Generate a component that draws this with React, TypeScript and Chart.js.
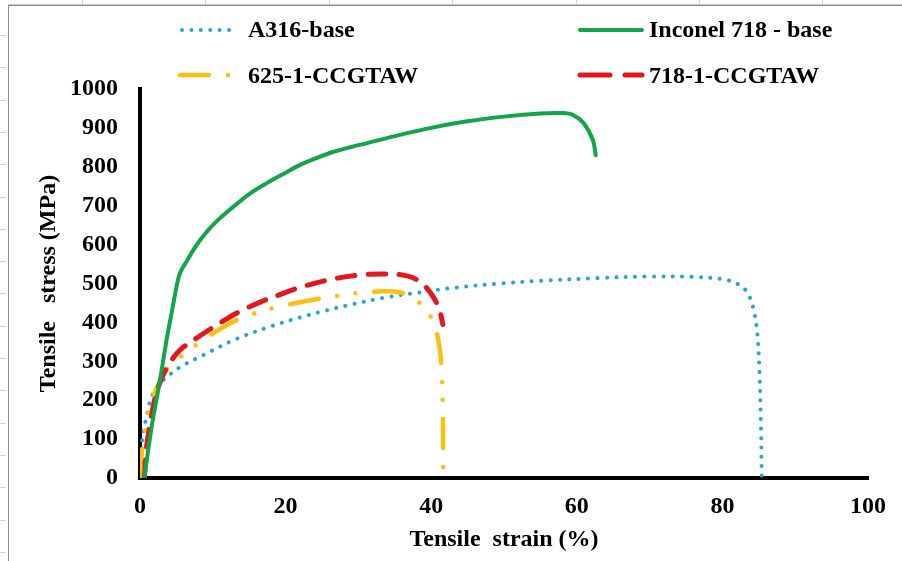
import React, { useEffect, useRef } from "react";
import { Chart, registerables } from "chart.js";

Chart.register(...registerables);

// ---- data ----
const xTickValues = [0, 20, 40, 60, 80, 100];
const yTickValues = [0, 100, 200, 300, 400, 500, 600, 700, 800, 900, 1000];

const seriesNames = ["A316-base", "Inconel 718 - base", "625-1-CCGTAW", "718-1-CCGTAW"];

const a316Strain = [0, 0.3, 0.7, 1.1, 1.5, 2.5, 3.7, 5.5, 8.7, 13.3, 18, 22, 25, 28.8, 33.4, 38, 42.6, 49.5, 55, 63, 70, 76, 80, 82, 83.3, 84.2, 84.8, 85.1, 85.3, 85.4];
const a316Stress = [0, 95, 141, 175, 205, 238, 260, 285, 316, 358, 390, 413, 428, 445, 463, 476, 488, 500, 507, 514, 518, 517, 511, 500, 480, 440, 370, 270, 130, 0];

const in718Strain = [0.6, 1.5, 2.75, 3.7, 4.5, 5.0, 5.5, 6.5, 7.3, 8.2, 10, 12.8, 15, 17.4, 20, 22, 24.3, 26.5, 29, 31.2, 35.7, 40, 45, 50, 55, 58, 59.5, 60.9, 62.2, 62.6];
const in718Stress = [0, 120, 252, 360, 440, 490, 527, 560, 585, 610, 650, 697, 730, 758, 785, 805, 823, 838, 851, 861, 882, 900, 917, 929, 937, 938, 933, 913, 869, 830];

const w625Strain = [0, 0.1, 0.3, 0.7, 1.1, 1.8, 2.5, 3.2, 4.5, 5.9, 8.7, 12.4, 16, 20, 24, 28.8, 33.4, 35.8, 37.1, 38.9, 40.1, 40.9, 41.4, 41.6, 41.65];
const w625Stress = [0, 40, 72, 125, 167, 210, 239, 268, 295, 316, 355, 398, 425, 444, 459, 473, 480, 477, 466, 442, 408, 362, 290, 160, 0];

const w718Strain = [0.6, 0.9, 1.5, 2.1, 3, 4.1, 5.5, 8.2, 11.4, 13.7, 16.5, 19, 22, 26.1, 30.2, 34.8, 36.8, 38, 39.3, 40.3, 41.1, 41.6];
const w718Stress = [0, 80, 150, 208, 257, 296, 329, 365, 403, 428, 452, 470, 490, 510, 522, 524, 519, 510, 490, 465, 435, 395];

const FONT_FAMILY = "'Liberation Serif', 'Times New Roman', serif";

export default function App() {
  const ref = useRef<HTMLCanvasElement>(null);

  useEffect(() => {
    if (!ref.current) return;
    const toPts = (xs: number[], ys: number[]) => xs.map((x, i) => ({ x, y: ys[i] }));

    const framePlugin = {
      id: "frame",
      beforeDraw(chart: any) {
        const ctx = chart.ctx;
        ctx.save();
        ctx.fillStyle = "#ffffff";
        ctx.fillRect(0, 0, chart.width, chart.height);
        ctx.strokeStyle = "#d4d4d4";
        ctx.lineWidth = 1;
        for (let y = 35; y < chart.height; y += 32.3) {
          ctx.beginPath();
          ctx.moveTo(0, Math.round(y) + 0.5);
          ctx.lineTo(6, Math.round(y) + 0.5);
          ctx.stroke();
        }
        for (let x = 82; x < chart.width; x += 123.4) {
          ctx.beginPath();
          ctx.moveTo(Math.round(x) + 0.5, 0);
          ctx.lineTo(Math.round(x) + 0.5, 4);
          ctx.stroke();
        }
        ctx.strokeStyle = "#c4c4c4";
        ctx.beginPath();
        ctx.moveTo(8, 4.5);
        ctx.lineTo(chart.width, 4.5);
        ctx.stroke();
        ctx.strokeStyle = "#8c8c8c";
        ctx.beginPath();
        ctx.moveTo(8, 5.5);
        ctx.lineTo(chart.width, 5.5);
        ctx.stroke();
        ctx.beginPath();
        ctx.moveTo(8.5, 5);
        ctx.lineTo(8.5, chart.height);
        ctx.stroke();
        ctx.restore();
      },
    };

    const legendItems = [
      { ds: 0, x0: 182, x1: 237, y: 30, tx: 248, ty: 37 },
      { ds: 1, x0: 580, x1: 642, y: 30, tx: 649, ty: 37 },
      { ds: 2, x0: 180, x1: 232, y: 75, tx: 248, ty: 83 },
      { ds: 3, x0: 580, x1: 642, y: 75, tx: 649, ty: 83 },
    ];

    const legendPlugin = {
      id: "customLegend",
      afterDraw(chart: any) {
        const ctx = chart.ctx;
        ctx.save();
        legendItems.forEach((it) => {
          const ds = chart.data.datasets[it.ds];
          ctx.strokeStyle = ds.borderColor;
          ctx.lineWidth = ds.borderWidth;
          ctx.lineCap = ds.borderCapStyle || "butt";
          ctx.setLineDash(ds.legendDash || ds.borderDash || []);
          ctx.beginPath();
          ctx.moveTo(it.x0, it.y);
          ctx.lineTo(it.x1, it.y);
          ctx.stroke();
          ctx.setLineDash([]);
          ctx.fillStyle = "#000";
          ctx.font = `bold 24px ${FONT_FAMILY}`;
          ctx.textAlign = "left";
          ctx.textBaseline = "alphabetic";
          ctx.fillText(ds.label, it.tx, it.ty);
        });
        ctx.restore();
      },
    };

    const tickFont = { family: FONT_FAMILY, size: 24, weight: "bold" as const };
    const common = { pointRadius: 0, tension: 0.35, borderCapStyle: "round" };

    const chart = new Chart(ref.current, {
      type: "line",
      data: {
        datasets: [
          {
            ...common,
            label: seriesNames[0],
            data: toPts(a316Strain, a316Stress),
            borderColor: "#22a6dd",
            borderWidth: 4,
            borderDash: [0.01, 9.4],
            order: 4,
          } as any,
          {
            ...common,
            label: seriesNames[1],
            data: toPts(in718Strain, in718Stress),
            borderColor: "#12a54a",
            borderWidth: 4,
            order: 1,
          } as any,
          {
            ...common,
            label: seriesNames[2],
            data: toPts(w625Strain, w625Stress),
            borderColor: "#fdbf12",
            borderWidth: 4.5,
            borderDash: [29, 19, 0.01, 18, 0.01, 19],
            order: 3,
          } as any,
          {
            ...common,
            label: seriesNames[3],
            data: toPts(w718Strain, w718Stress),
            borderColor: "#e5161d",
            borderWidth: 5,
            borderDash: [18, 13],
            legendDash: [30, 15],
            order: 2,
          } as any,
        ],
      },
      options: {
        animation: false,
        responsive: false,
        devicePixelRatio: 1,
        layout: { padding: { left: 0, right: 34, top: 89, bottom: 0 } },
        plugins: {
          legend: { display: false },
          tooltip: { enabled: false },
        },
        scales: {
          x: {
            type: "linear",
            min: 0,
            max: 100,
            afterFit: (s: any) => {
              s.height = 83;
            },
            afterBuildTicks: (s: any) => {
              s.ticks = xTickValues.map((v) => ({ value: v }));
            },
            ticks: { font: tickFont, color: "#000", padding: 14, maxRotation: 0, callback: (v: any) => String(v) },
            grid: { display: false, drawTicks: false },
            border: { display: true, color: "#000", width: 4 },
            title: {
              display: true,
              text: "Tensile  strain (%)",
              color: "#000",
              font: tickFont,
              padding: { top: 0, bottom: 7 },
            },
          },
          y: {
            type: "linear",
            min: 0,
            max: 1000,
            afterFit: (s: any) => {
              s.width = 140;
            },
            afterBuildTicks: (s: any) => {
              s.ticks = yTickValues.map((v) => ({ value: v }));
            },
            ticks: { font: tickFont, color: "#000", padding: 22, callback: (v: any) => String(v) },
            grid: { display: false, drawTicks: false },
            border: { display: true, color: "#000", width: 4 },
            title: {
              display: true,
              text: "Tensile   stress (MPa)",
              color: "#000",
              font: tickFont,
              padding: { top: 34, bottom: 0 },
            },
          },
        },
      },
      plugins: [framePlugin, legendPlugin],
    });

    return () => chart.destroy();
  }, []);

  return (
    <div style={{ position: "absolute", left: 0, top: 0, width: 902, height: 561, background: "#fff" }}>
      <canvas ref={ref} width={902} height={561} style={{ display: "block", width: 902, height: 561 }} />
    </div>
  );
}
